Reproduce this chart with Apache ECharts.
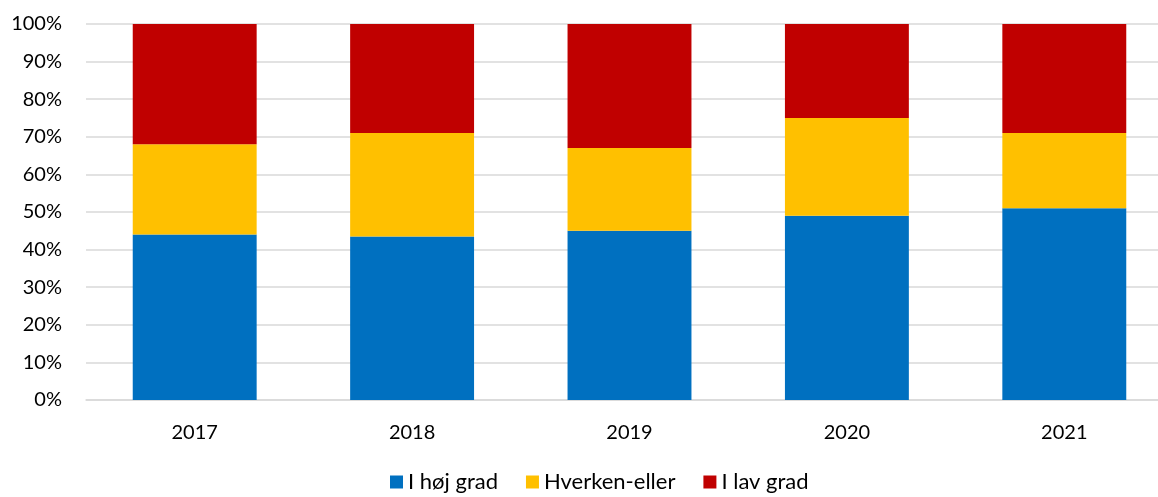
<!DOCTYPE html>
<html>
<head>
<meta charset="utf-8">
<script src="https://cdn.jsdelivr.net/npm/echarts@6/dist/echarts.min.js"></script>
<style>
  html, body { margin: 0; padding: 0; background: #fff; }
  #chart { width: 1158px; height: 497px; }
</style>
</head>
<body>
<div id="chart"></div>
<script>
// Share of answers per year (percent)
const years = ['2017', '2018', '2019', '2020', '2021'];
const hojGrad = [44, 43.5, 45, 49, 51];
const hverkenEller = [24, 27.5, 22, 26, 20];
const lavGrad = [32, 29, 33, 25, 29];
const seriesNames = ['I høj grad', 'Hverken-eller', 'I lav grad'];
const seriesColors = ['#0070C0', '#FFC000', '#C00000'];

const font = 'Lato, "Open Sans", sans-serif';
const chart = echarts.init(document.getElementById('chart'), null, { renderer: 'canvas' });

const values = [hojGrad, hverkenEller, lavGrad];
chart.setOption({
  animation: false,
  textStyle: { fontFamily: font },
  grid: { left: 86, top: 24, width: 1087, height: 376, containLabel: false, outerBoundsMode: 'none' },
  legend: {
    top: 471,
    left: 390,
    itemWidth: 13,
    itemHeight: 13,
    itemGap: 28,
    icon: 'rect',
    padding: 0,
    textStyle: { fontFamily: font, fontSize: 22, color: '#000' },
    data: seriesNames
  },
  xAxis: {
    type: 'category',
    data: years,
    axisLine: { lineStyle: { color: '#d9d9d9', width: 1.5 } },
    axisTick: { show: false },
    axisLabel: { color: '#000', fontSize: 20, fontFamily: font, margin: 23 }
  },
  yAxis: {
    type: 'value',
    min: 0,
    max: 100,
    interval: 10,
    axisLine: { show: false },
    axisTick: { show: false },
    splitLine: { lineStyle: { color: '#d9d9d9', width: 1.5 } },
    axisLabel: { color: '#000', fontSize: 20, fontFamily: font, margin: 24, formatter: '{value}%' }
  },
  series: seriesNames.map((name, i) => ({
    name,
    type: 'bar',
    stack: 'total',
    barWidth: '57%',
    itemStyle: { color: seriesColors[i] },
    data: values[i]
  }))
});
</script>
</body>
</html>
